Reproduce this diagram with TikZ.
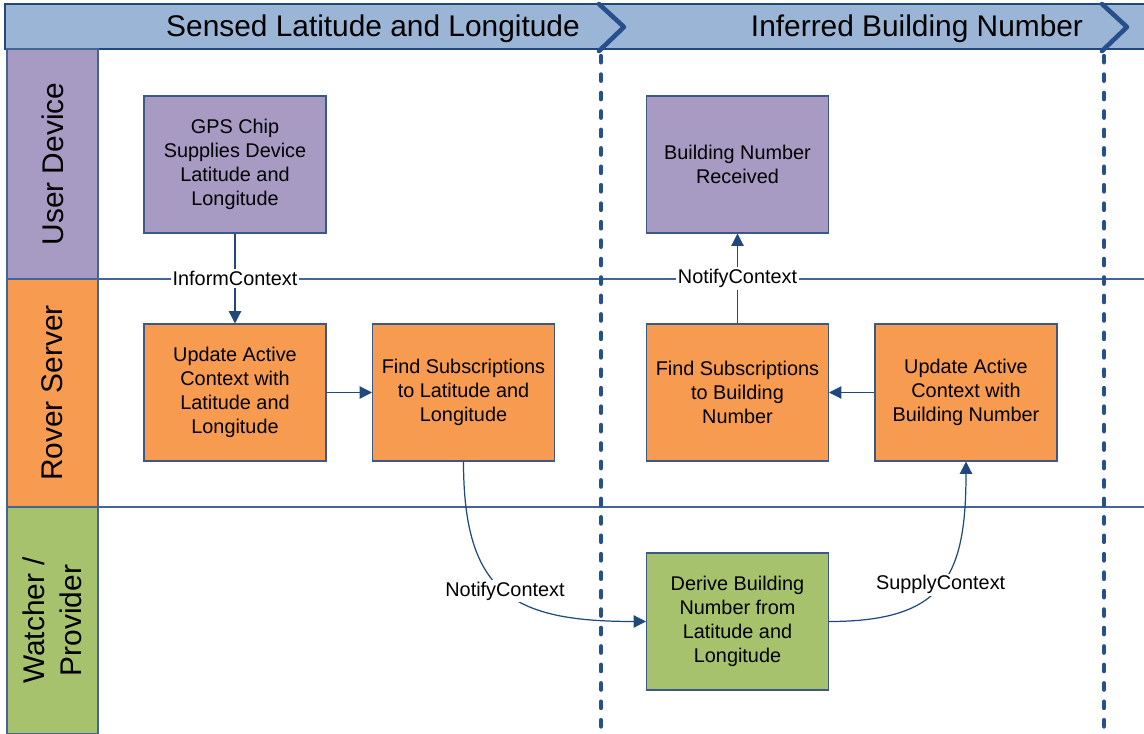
\documentclass[tikz,border=0pt]{standalone}
\usepackage{fontspec}
\setmainfont{Liberation Sans}
\usetikzlibrary{arrows.meta}

\definecolor{hdrfill}{RGB}{155,181,214}
\definecolor{darkblue}{RGB}{31,73,125}
\definecolor{chevblue}{RGB}{37,80,140}
\definecolor{laneline}{RGB}{68,100,150}
\definecolor{boxline}{RGB}{60,88,135}
\definecolor{devfill}{RGB}{167,155,196}
\definecolor{srvfill}{RGB}{247,155,80}
\definecolor{prvfill}{RGB}{166,194,108}

\tikzstyle{box} = [rectangle, minimum width=3.64cm, minimum height=2.74cm, text centered, align=center, draw=boxline, line width=0.6pt, font=\fontsize{11.3}{13.6}\selectfont]
\tikzstyle{device} = [box, fill=devfill]
\tikzstyle{server} = [box, fill=srvfill]
\tikzstyle{provider} = [box, fill=prvfill]
\tikzstyle{lanehead} = [rectangle, rotate=90, minimum height=1.82cm, align=center, draw=laneline, line width=0.6pt, font=\fontsize{17}{18}\selectfont]
\tikzstyle{phase} = [font=\fontsize{17}{20}\selectfont, anchor=base]
\tikzstyle{lbl} = [fill=white, inner sep=1pt, font=\fontsize{11.3}{13.6}\selectfont]
\tikzstyle{conn} = [draw=darkblue, line width=0.7pt, -{Triangle[length=7pt,width=7pt]}]

\begin{document}
\begin{tikzpicture}[x=0.02cm, y=-0.02cm]
	\useasboundingbox (0,0) rectangle (1144,734);

	% phase header
	\draw[darkblue, line width=0.6pt, fill=hdrfill] (5,4) rectangle (1146,49);
	\node (sensed)   [phase] at (373,36) {Sensed Latitude and Longitude};
	\node (inferred) [phase] at (917,36) {Inferred Building Number};
	\draw[chevblue, line width=2.6pt, line cap=round, line join=round] (599,4) -- (624,27) -- (599,51);
	\draw[chevblue, line width=2.6pt, line cap=round, line join=round] (1102,4) -- (1127,27) -- (1102,51);

	% swim lanes
	\node (devlane) [lanehead, fill=devfill, minimum width=4.6cm]  at (52.5,164) {User Device};
	\node (srvlane) [lanehead, fill=srvfill, minimum width=4.56cm] at (52.5,393) {Rover Server};
	\node (prvlane) [lanehead, fill=prvfill, minimum width=4.54cm] at (52.5,620.5) {Watcher /\\[3pt]Provider};
	\draw[laneline, line width=0.6pt] (98,279) -- (1146,279);
	\draw[laneline, line width=0.6pt] (98,507) -- (1146,507);
	\draw[chevblue, line width=2.5pt, line cap=round, dash pattern=on 3.6pt off 6.9pt] (601,56) -- (601,734);
	\draw[chevblue, line width=2.5pt, line cap=round, dash pattern=on 3.6pt off 6.9pt] (1104,56) -- (1104,734);

	% steps
	\node (gps)      [device]   at (235,164.5)   {GPS Chip\\Supplies Device\\Latitude and\\Longitude};
	\node (received) [device]   at (737.5,164.5) {Building Number\\Received};
	\node (updlat)   [server]   at (235,392.5)   {Update Active\\Context with\\Latitude and\\Longitude};
	\node (findlat)  [server]   at (463.5,392.5) {Find Subscriptions\\to Latitude and\\Longitude};
	\node (findbld)  [server]   at (737.5,392.5) {Find Subscriptions\\to Building\\Number};
	\node (updbld)   [server]   at (966,392.5)   {Update Active\\Context with\\Building Number};
	\node (derive)   [provider] at (737.5,621.5) {Derive Building\\Number from\\Latitude and\\Longitude};

	\draw[conn] (gps) -- node[lbl] {InformContext} (updlat);
	\draw[conn] (updlat) -- (findlat);
	\draw[conn] (findlat.south) to[out=-90, in=180, looseness=1.4] node[lbl] {NotifyContext} (derive.west);
	\draw[conn] (derive.east) to[out=0, in=-90, looseness=1.4] node[lbl] {SupplyContext} (updbld.south);
	\draw[conn] (updbld) -- (findbld);
	\draw[conn] (findbld) -- node[lbl] {NotifyContext} (received);
\end{tikzpicture}
\end{document}
